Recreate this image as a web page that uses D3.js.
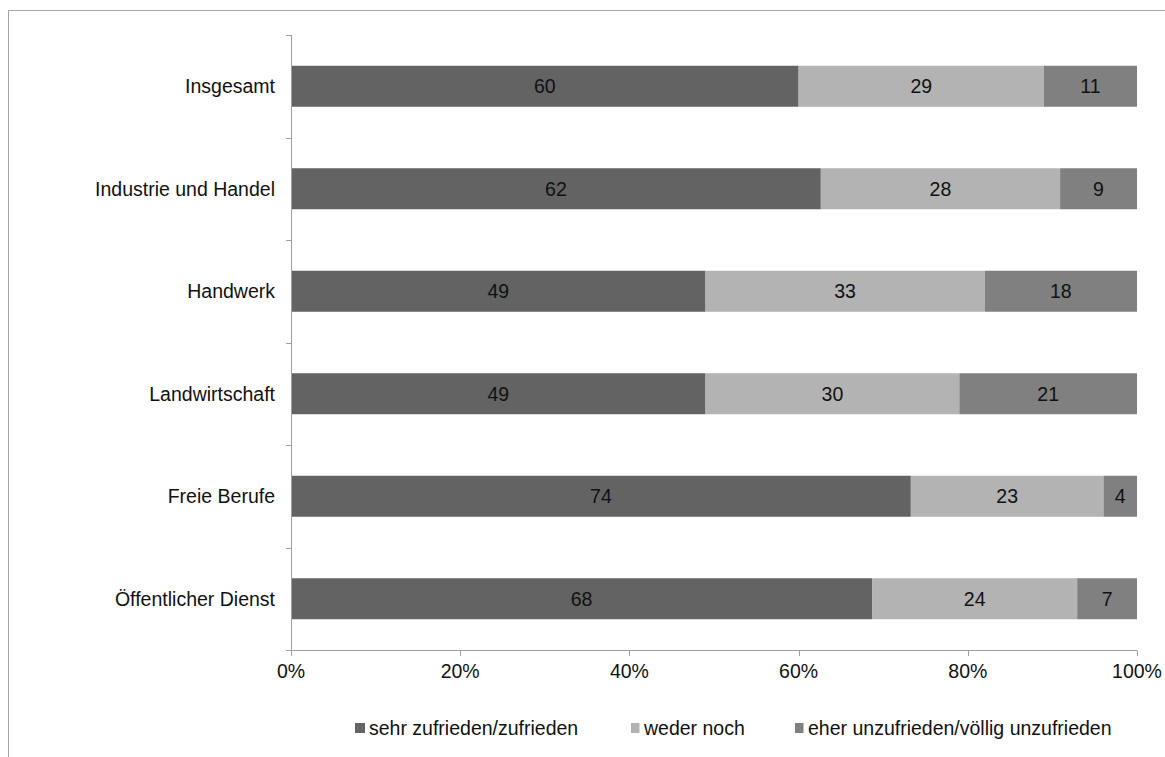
<!DOCTYPE html>
<html><head><meta charset="utf-8">
<script src="https://cdn.jsdelivr.net/npm/d3@7"></script>
<style>body{margin:0;background:#fff}svg{display:block;font-family:"Liberation Sans",Arial,sans-serif}</style>
</head><body><svg id="c" width="1165" height="757"></svg>
<script>
const categories = ["Insgesamt","Industrie und Handel","Handwerk","Landwirtschaft","Freie Berufe","Öffentlicher Dienst"];
const seriesNames = ["sehr zufrieden/zufrieden","weder noch","eher unzufrieden/völlig unzufrieden"];
const satisfied = [60,62,49,49,74,68];
const neither = [29,28,33,30,23,24];
const dissatisfied = [11,9,18,21,4,7];
const tickLabels = ["0%","20%","40%","60%","80%","100%"];
const colors = ["#636363","#b3b3b3","#808080"];
const FS = 19.5;

const svg = d3.select("#c");
svg.append("rect").attr("x",8.5).attr("y",10.5).attr("width",1165).attr("height",760)
  .attr("fill","none").attr("stroke","#a6a6a6");

const x = d3.scaleLinear().domain([0,1]).range([291,1137]);
const y = d3.scaleBand().domain(categories).range([35,650]).paddingInner(0.6).paddingOuter(0.3);
const series = [satisfied,neither,dissatisfied];

categories.forEach((c,i)=>{
  const vals = series.map(s=>s[i]);
  const tot = d3.sum(vals);
  let acc = 0;
  vals.forEach((v,j)=>{
    const x0 = x(acc/tot), x1 = x((acc+v)/tot);
    svg.append("rect").attr("x",x0).attr("y",y(c)).attr("width",x1-x0).attr("height",y.bandwidth())
      .attr("fill",colors[j]);
    svg.append("text").attr("x",(x0+x1)/2).attr("y",y(c)+y.bandwidth()/2).attr("dy","0.36em")
      .attr("text-anchor","middle").attr("font-size",FS).attr("fill","#111").text(v);
    acc += v;
  });
});

// y axis
const yb = d3.scaleLinear().domain([0,categories.length]).range([35,650]);
svg.append("line").attr("x1",291.5).attr("x2",291.5).attr("y1",35).attr("y2",650).attr("stroke","#a0a0a0");
d3.range(categories.length+1).forEach(k=>{
  svg.append("line").attr("x1",286).attr("x2",291.5).attr("y1",Math.round(yb(k))+0.5).attr("y2",Math.round(yb(k))+0.5).attr("stroke","#a0a0a0");
});
categories.forEach(c=>{
  svg.append("text").attr("x",275).attr("y",y(c)+y.bandwidth()/2).attr("dy","0.36em")
    .attr("text-anchor","end").attr("font-size",FS).attr("fill","#111").text(c);
});

// x axis
svg.append("line").attr("x1",286).attr("x2",1137).attr("y1",650.5).attr("y2",650.5).attr("stroke","#a0a0a0");
tickLabels.forEach((t,k)=>{
  const xv = Math.round(x(k/5))+0.5;
  svg.append("line").attr("x1",xv).attr("x2",xv).attr("y1",650.5).attr("y2",656).attr("stroke","#a0a0a0");
  svg.append("text").attr("x",x(k/5)).attr("y",671).attr("dy","0.36em").attr("text-anchor","middle").attr("font-size",FS).attr("fill","#111").text(t);
});

// legend
const legSq = [355,631,795];
const legTx = [369,644,808];
seriesNames.forEach((n,j)=>{
  svg.append("rect").attr("x",legSq[j]).attr("y",723).attr("width",j===0?10:8.5).attr("height",10).attr("fill",colors[j]);
  svg.append("text").attr("x",legTx[j]).attr("y",728).attr("dy","0.36em").attr("font-size",FS).attr("fill","#111").text(n);
});
</script></body></html>
